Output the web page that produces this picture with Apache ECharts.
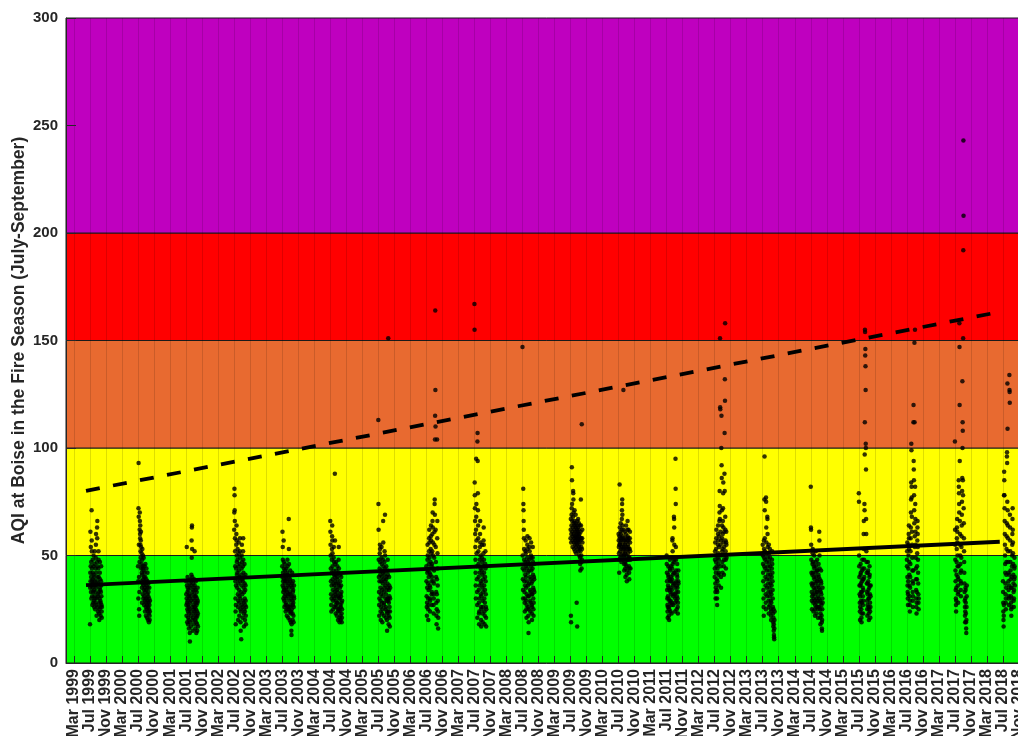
<!DOCTYPE html>
<html>
<head>
<meta charset="utf-8">
<script src="https://cdn.jsdelivr.net/npm/echarts@6/dist/echarts.min.js"></script>
<style>
html,body{margin:0;padding:0;overflow:hidden;background:#fff;}
#chart{width:1040px;height:736px;}
</style>
</head>
<body>
<div id="chart"></div>
<script>
// ---------- DATA (daily AQI, Jul 1 - Sep 30) ----------
const years = [1999,2000,2001,2002,2003,2004,2005,2006,2007,2008,2009,2010,2011,2012,2013,2014,2015,2016,2017,2018];

const aqi1999 = [18,35,42,61,38,45,54,33,40,47, 30,36,71,57,52,44,38,31,27,35, 42,48,39,33,28,37,45,50,41,36,29, 34,26,31,40,46,52,38,30,25,33, 28,36,44,49,55,60,42,35,27,22, 30,38,47,63,58,66,45,40,32,26,24, 31,37,44,52,48,40,33,28,23,20, 25,30,35,42,47,39,34,29,26,22, 28,33,38,45,36,31,27,24,21,26];
const aqi2000 = [45,38,30,72,93,68,55,40,25,22, 33,47,62,70,66,60,58,64,55,52, 49,57,61,54,44,38,46,51,42,35,28, 41,48,53,45,37,32,44,50,39,30, 36,43,49,40,34,27,31,38,45,42, 35,29,24,33,40,46,37,30,26,22,28, 34,39,44,36,30,25,21,27,32,38, 42,35,29,24,20,26,31,37,33,28, 23,19,25,30,35,27,22,20,24,29];
const aqi2001 = [38,32,27,22,30,54,36,28,19,25, 33,40,35,29,24,18,21,27,34,31, 26,20,16,23,30,37,32,25,14,10,19, 28,35,39,31,24,17,22,29,36,41, 38,57,49,63,64,53,40,33,26,20, 15,21,30,37,34,27,23,18,25,32,39, 35,29,24,52,36,31,26,20,16,22, 28,34,38,31,25,19,14,21,27,33, 30,24,18,15,22,28,35,29,23,17];
const aqi2002 = [62,70,81,78,71,66,58,52,45,38, 30,24,18,27,36,44,55,60,64,57, 50,47,41,35,42,48,53,39,32,26,20, 29,37,45,51,56,43,34,28,22,31, 40,46,52,58,49,38,30,25,19,15, 24,33,41,11,27,36,44,50,55,47,39, 32,26,21,29,38,45,52,58,48,42, 35,28,23,17,25,33,40,46,37,30, 24,20,27,34,41,36,29,22,18,26];
const aqi2003 = [45,40,61,36,54,48,42,38,33,30, 35,57,47,44,39,34,29,26,31,37, 41,46,43,38,32,27,24,28,35,40,44, 39,34,30,25,22,27,33,38,42,48, 45,41,36,31,26,21,25,32,37,67, 53,46,40,35,29,24,20,26,33,39,43, 38,32,27,23,19,24,30,36,15,13, 18,25,31,37,42,35,29,23,20,27, 33,38,34,28,22,19,26,31,36,30];
const aqi2004 = [66,61,55,50,44,38,32,27,24,30, 36,42,48,53,59,64,57,51,45,39, 34,29,25,31,37,43,49,54,47,41,36, 30,26,33,40,88,57,46,38,32,27, 23,29,35,41,47,43,37,31,26,22, 28,34,40,45,39,33,28,24,20,25,31, 37,42,48,54,44,36,30,25,21,19, 24,30,35,41,38,32,27,22,20,26, 31,36,40,33,28,23,19,21,25,29];
const aqi2005 = [113,74,62,48,40,33,27,22,30,38, 44,51,55,53,47,41,35,29,24,20, 26,32,38,43,49,54,46,40,34,28,23, 19,25,31,37,42,48,66,56,45,39, 33,27,22,28,35,41,47,52,44,38, 69,50,43,36,30,25,21,26,32,39,45, 40,34,29,24,20,15,23,30,37,43, 48,41,35,29,151,30,24,18,22,28, 34,40,36,31,26,21,17,24,30,35];
const aqi2006 = [45,38,31,26,22,28,35,42,48,55, 50,43,37,30,25,20,27,34,40,46, 52,58,62,56,49,42,36,30,24,29,35, 41,47,53,59,64,57,51,45,38,32, 27,33,40,46,52,60,66,70,63,56, 50,44,38,32,27,23,30,37,43,49,55, 61,74,76,69,104,115,164,127,110,62, 54,47,40,33,28,22,18,25,32,39, 104,58,66,51,44,36,29,24,16,21];
const aqi2007 = [167,155,84,78,72,66,60,54,48,42, 36,30,62,95,68,74,57,51,45,39, 33,27,21,103,107,94,79,71,64,58,52, 46,40,34,28,23,18,24,30,36,42, 48,54,60,66,56,50,44,38,32,26, 20,17,25,31,37,43,49,55,47,41,35, 29,23,19,26,33,39,45,51,57,63, 55,48,42,36,30,24,18,22,28,34, 40,46,52,44,38,32,26,21,17,25];
const aqi2008 = [147,50,44,39,34,30,81,74,71,66, 62,58,53,48,43,38,33,28,24,30, 36,41,47,52,57,51,45,40,35,29,25, 21,27,32,38,44,49,55,59,53,47, 42,36,31,26,22,14,19,25,31,37, 43,48,54,58,52,46,40,34,29,24,28, 33,39,45,50,56,49,43,37,32,27, 23,20,26,32,38,44,49,54,47,41, 35,30,25,22,28,34,40,46,39,33];
const aqi2009 = [58,62,67,22,19,56,60,64,69,72, 91,85,74,66,61,57,54,59,63,68, 80,79,76,70,65,60,56,53,58,62,66, 71,64,59,55,52,57,61,65,69,63, 58,54,51,56,60,64,28,59,55,62, 17,66,61,57,53,58,63,67,60,56,52, 57,62,65,59,54,50,55,60,64,58, 53,49,46,43,52,57,61,76,64,58, 54,50,47,44,111,48,53,58,62,56];
const aqi2010 = [60,57,54,51,48,42,55,59,83,63, 58,55,52,49,56,61,65,60,57,53, 50,47,54,58,62,67,71,74,76,69,64, 59,55,51,48,53,57,127,62,58,54, 50,46,43,49,53,57,61,55,51,47, 44,40,46,52,56,60,64,58,54,50,45, 41,38,43,48,53,57,62,66,59,55, 51,48,54,58,62,57,53,49,45,42, 39,44,49,53,58,61,56,52,48,44];
const aqi2011 = [50,46,42,38,34,30,27,24,21,26, 31,36,41,45,40,35,30,26,22,20, 25,29,34,39,44,48,43,38,33,28,24, 29,35,40,45,38,32,27,23,28,34, 39,44,49,57,58,52,46,41,36,31, 27,32,37,42,47,68,67,63,55,48,42, 37,32,28,24,30,35,95,81,74,54, 48,43,38,33,29,25,31,36,41,46, 40,35,30,26,23,28,33,38,43,37];
const aqi2012 = [40,44,48,52,56,37,33,30,35,42, 47,53,58,62,50,45,39,34,30,27, 33,38,44,49,55,60,64,57,51,46,41, 36,42,48,54,59,66,70,80,73,67, 151,119,118,61,55,50,45,40,35,57, 100,115,92,86,71,64,58,52,47,42,53, 60,66,72,79,84,63,56,50,45,41, 48,54,61,88,107,80,132,122,158,68, 62,57,52,48,44,50,56,61,55,49];
const aqi2013 = [55,50,46,42,38,34,30,26,22,57, 53,49,45,76,96,71,58,52,48,44, 40,36,32,28,25,77,75,63,56,51,47, 43,39,35,31,68,67,60,54,49,45, 41,37,33,29,26,23,55,51,47,43, 39,35,31,27,53,49,45,41,37,33,29, 25,22,20,24,28,32,36,40,44,48, 52,46,42,38,34,30,26,23,19,17, 21,25,15,18,13,12,11,16,20,24];
const aqi2014 = [82,63,62,55,48,42,37,33,29,25, 31,36,41,46,51,53,47,42,37,32, 28,24,30,35,40,45,50,44,39,34,29, 25,22,27,32,37,42,47,52,45,40, 35,30,26,23,28,33,38,43,48,43, 38,33,29,25,21,26,31,36,41,46,40, 35,30,26,61,57,50,44,39,34,29, 25,21,18,23,28,33,38,43,37,32, 27,22,19,16,15,20,25,30,35,28];
const aqi2015 = [79,75,50,45,40,36,32,28,24,20, 26,31,36,41,46,42,37,33,29,25, 21,19,23,28,33,38,43,48,44,39,35, 31,27,23,29,34,39,60,66,53,48, 44,40,74,71,97,112,155,154,143,146, 138,127,102,100,90,67,60,52,47,42,37, 33,29,25,22,27,32,37,42,47,43, 38,34,30,26,23,20,25,30,35,40, 45,41,36,32,28,24,21,26,31,36];
const aqi2016 = [48,45,52,56,40,36,33,30,27,32, 38,44,50,55,60,64,58,53,47,41, 36,31,27,24,29,35,40,46,52,58,63, 70,76,84,102,99,82,77,68,61,55, 49,43,38,33,29,26,31,37,43,112, 120,94,90,85,78,71,65,149,112,59,54, 155,82,74,67,61,55,49,44,39,34, 30,26,23,28,33,39,45,51,57,63, 66,60,54,48,42,37,32,28,25,30];
const aqi2017 = [103,62,55,48,43,38,34,30,27,24, 29,35,41,47,53,58,63,67,61,56, 50,45,40,36,32,28,33,39,45,85,82, 79,74,70,158,147,120,94,66,60,55, 50,46,42,38,34,31,37,43,49,54, 59,64,69,75,80,86,131,100,112,108,85, 78,151,192,243,208,72,65,58,52,47, 42,37,33,29,26,22,19,24,30,35, 34,28,23,19,16,14,20,26,31,36];
const aqi2018 = [38,33,28,24,20,17,22,27,78,89, 85,78,72,66,60,55,50,46,42,37, 32,28,25,30,35,41,47,53,59,65,96, 98,93,75,130,109,71,64,58,52,47, 42,38,34,30,27,31,36,41,134,127, 126,121,69,63,57,52,47,43,39,35,31, 28,25,22,26,30,35,40,45,50,55, 60,67,72,62,56,51,46,41,37,33, 29,26,30,34,39,44,49,45,40,36];

const seasonValues = [aqi1999,aqi2000,aqi2001,aqi2002,aqi2003,aqi2004,aqi2005,aqi2006,aqi2007,aqi2008,
                      aqi2009,aqi2010,aqi2011,aqi2012,aqi2013,aqi2014,aqi2015,aqi2016,aqi2017,aqi2018];

// trend lines: [months since Jan 1999, AQI]
const meanTrend = [[5.0, 36.2], [233.2, 56.4]];
const upperTrend = [[5.0, 80.1], [233.2, 163.3]];

// AQI category bands
const bandEdges = [0, 50, 100, 150, 200, 300];
const bandColors = ['#00FF00', '#FFFF00', '#E86A30', '#FF0000', '#BF00BF'];

// tick labels: every 4 months, Mar 1999 ... Nov 2018
const monthNames = ['Jan','Feb','Mar','Apr','May','Jun','Jul','Aug','Sep','Oct','Nov','Dec'];
const tickValues = [];
for (let m = 2; m <= 238; m += 4) tickValues.push(m);
const tickLabel = v => monthNames[v % 12] + ' ' + (1999 + Math.floor(v / 12));
const monthSlots = [];
for (let m = 0; m <= 240; m++) monthSlots.push(String(m));

// ---------- build ----------
const points = [];
years.forEach((y, i) => {
  const vals = seasonValues[i];
  vals.forEach((v, d) => {
    points.push([(y - 1999) * 12 + 6 + d * 3 / vals.length, v]);
  });
});

const bandData = [];
for (let i = 0; i < bandColors.length; i++) {
  bandData.push([{yAxis: bandEdges[i], itemStyle: {color: bandColors[i]}}, {yAxis: bandEdges[i + 1]}]);
}

const FONT = '"Liberation Sans", Arial, Helvetica, sans-serif';
const TXT = '#262626';
const chart = echarts.init(document.getElementById('chart'), null, {renderer: 'canvas'});
chart.setOption({
  animation: false,
  backgroundColor: '#ffffff',
  grid: {left: 66, right: 13, top: 18, bottom: 73, containLabel: false, outerBoundsMode: 'none'},
  xAxis: [{
    type: 'value', min: 0, max: 240, z: 5,
    axisLine: {show: true, onZero: false, lineStyle: {color: TXT, width: 1}},
    axisTick: {show: true, inside: true, length: 7, customValues: tickValues, lineStyle: {color: TXT, width: 1}},
    axisLabel: {show: true, customValues: tickValues, rotate: 90, margin: 6, formatter: tickLabel,
      color: TXT, fontFamily: FONT, fontWeight: 'bold', fontSize: 16},
    splitLine: {show: false}
  }, {
    type: 'category', data: monthSlots, boundaryGap: false, position: 'bottom', z: 2,
    axisLine: {show: false}, axisTick: {show: false}, axisLabel: {show: false},
    splitLine: {show: true, interval: (idx) => (idx - 2) % 4 === 0,
      lineStyle: {color: 'rgba(0,0,0,0.13)', width: 1}}
  }],
  yAxis: {
    type: 'value', min: 0, max: 300, interval: 50, z: 5,
    name: 'AQI at Boise in the Fire Season (July-September)',
    nameLocation: 'middle', nameGap: 38, nameMoveOverlap: false,
    nameTextStyle: {color: TXT, fontFamily: FONT, fontWeight: 'bold', fontSize: 17.5},
    axisLine: {show: true, lineStyle: {color: TXT, width: 1}},
    axisTick: {show: true, inside: true, length: 10, lineStyle: {color: TXT, width: 1}},
    axisLabel: {color: TXT, fontFamily: FONT, fontWeight: 'bold', fontSize: 15, margin: 8},
    splitLine: {show: false}
  },
  series: [
    {
      type: 'scatter', data: [], z: 1, silent: true,
      markArea: {silent: true, itemStyle: {borderColor: '#1a1a1a', borderWidth: 1}, data: bandData}
    },
    {
      type: 'scatter', data: points, z: 3, symbol: 'circle', symbolSize: 4.5,
      itemStyle: {color: '#000000'}
    },
    {
      type: 'line', data: meanTrend, z: 4, symbol: 'none',
      lineStyle: {color: '#000000', width: 3.8, type: 'solid'}
    },
    {
      type: 'line', data: upperTrend, z: 4, symbol: 'none',
      lineStyle: {color: '#000000', width: 3.8, type: [14, 13.5]}
    }
  ]
});
</script>
</body>
</html>
